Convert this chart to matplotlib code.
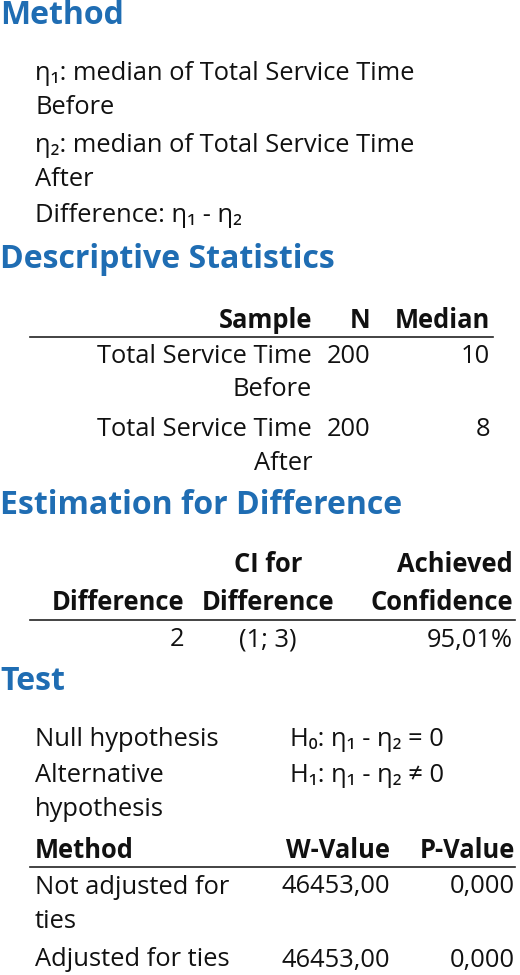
import matplotlib.pyplot as plt

plt.rcParams['font.family'] = ['Open Sans', 'DejaVu Sans']

method_lines = ["η₁: median of Total Service Time", "Before",
                "η₂: median of Total Service Time", "After",
                "Difference: η₁ - η₂"]
desc_header = ["Sample", "N", "Median"]
desc_samples = [["Total Service Time", "Before"], ["Total Service Time", "After"]]
desc_n = [200, 200]
desc_median = [10, 8]
est_difference = "2"
est_ci = "(1; 3)"
est_conf = "95,01%"
null_hyp = "H₀: η₁ - η₂ = 0"
alt_hyp = "H₁: η₁ - η₂ ≠ 0"
test_methods = [["Not adjusted for", "ties"], ["Adjusted for ties"]]
w_values = ["46453,00", "46453,00"]
p_values = ["0,000", "0,000"]

W, H = 520, 975
fig = plt.figure(figsize=(W / 100, H / 100), dpi=100)
BLUE = '#1F6DB3'
FS = 18.4
HFS = 23


def t(x, y, s, ha='left', bold=False, size=FS, color='#111111'):
    fig.text(x / W, 1 - y / H, s, ha=ha, va='center', fontsize=size,
             fontweight='bold' if bold else 'normal', color=color)


def hline(x0, x1, y):
    fig.add_artist(plt.Line2D([x0 / W, x1 / W], [1 - y / H, 1 - y / H],
                              color='#222222', lw=1.2))


def heading(y, s):
    t(0, y, s, bold=True, size=HFS, color=BLUE)


heading(15, "Method")
for y, s in zip([73, 107, 146, 180, 216], method_lines):
    t(35, y, s)

heading(259, "Descriptive Statistics")
for x, s in zip([312, 370, 490], desc_header):
    t(x, 320, s, ha='right', bold=True)
hline(30, 493, 337)
for y0, samp, n, med in zip([356, 429], desc_samples, desc_n, desc_median):
    t(312, y0, samp[0], ha='right')
    t(312, y0 + 34, samp[1], ha='right')
    t(370, y0, str(n), ha='right')
    t(490, y0, str(med), ha='right')

heading(505, "Estimation for Difference")
t(268, 565, "CI for", ha='center', bold=True)
t(513, 565, "Achieved", ha='right', bold=True)
t(184, 602, "Difference", ha='right', bold=True)
t(268, 602, "Difference", ha='center', bold=True)
t(513, 602, "Confidence", ha='right', bold=True)
hline(30, 515, 620)
t(184, 640, est_difference, ha='right')
t(268, 640, est_ci, ha='center')
t(513, 640, est_conf, ha='right')

heading(681, "Test")
t(35, 740, "Null hypothesis")
t(290, 740, null_hyp)
t(35, 775, "Alternative")
t(35, 810, "hypothesis")
t(290, 775, alt_hyp)
t(35, 850, "Method", bold=True)
t(390, 850, "W-Value", ha='right', bold=True)
t(515, 850, "P-Value", ha='right', bold=True)
hline(30, 515, 867)
ys = [887, 960]
for y0, m, w, p in zip(ys, test_methods, w_values, p_values):
    t(35, y0, m[0])
    if len(m) > 1:
        t(35, y0 + 35, m[1])
    t(390, y0, w, ha='right')
    t(515, y0, p, ha='right')

fig.savefig('out.png', dpi=100)
